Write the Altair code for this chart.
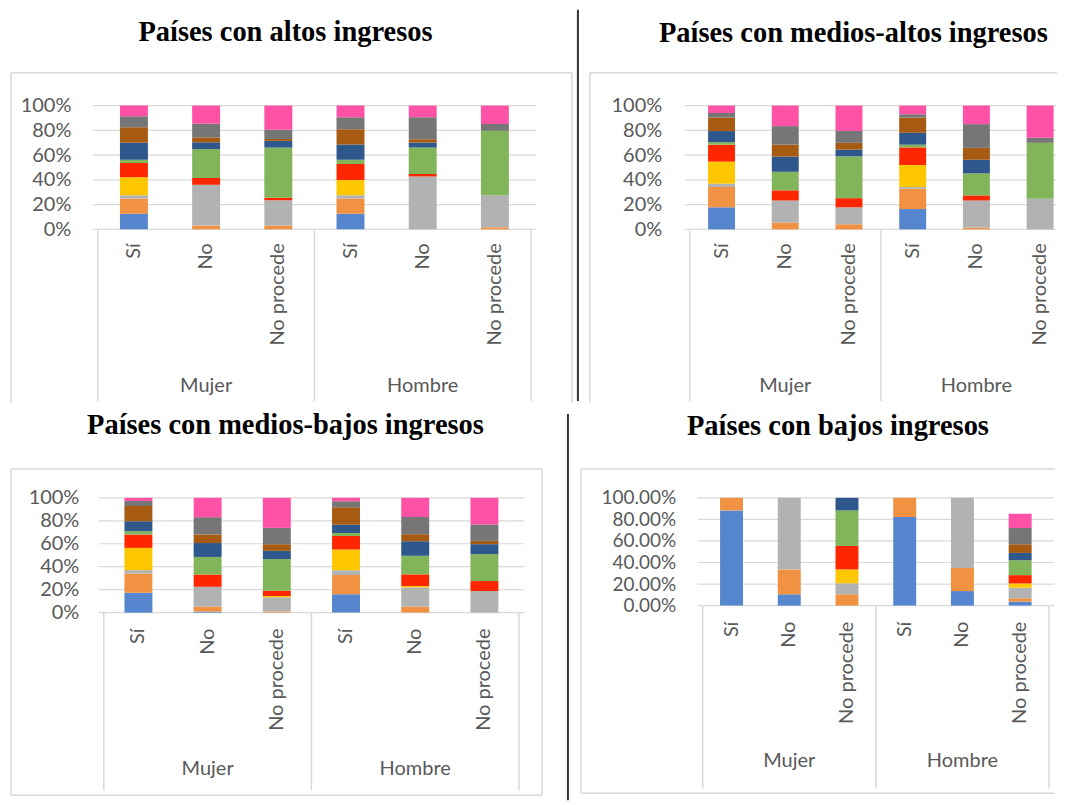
import altair as alt
import pandas as pd

# ---- categories / labels ----
CATS = ["Sí", "No", "No procede"]
GROUPS = ["Mujer", "Hombre"]
SERIES = ["Serie 1", "Serie 2", "Serie 3", "Serie 4", "Serie 5",
          "Serie 6", "Serie 7", "Serie 8", "Serie 9", "Serie 10"]
COLORS = ["#5686CE", "#F19242", "#B2B2B2", "#FFC700", "#FF2600",
          "#82B55A", "#2E578C", "#A65A12", "#767676", "#FF52A6"]
Y_TICKS = [0, 0.2, 0.4, 0.6, 0.8, 1]

TITLE_ALTOS = "Países con altos ingresos"
TITLE_MEDIOS_ALTOS = "Países con medios-altos ingresos"
TITLE_MEDIOS_BAJOS = "Países con medios-bajos ingresos"
TITLE_BAJOS = "Países con bajos ingresos"

# ---- values (%), bottom to top in SERIES order, per bar ----
ALTOS_MUJER_SI = [12.6, 12.3, 2.7, 14.5, 11.5, 2.7, 13.6, 12.5, 9.0, 8.6]
ALTOS_MUJER_NO = [0, 3.0, 33.0, 0, 5.5, 23.3, 5.5, 4.0, 11.0, 14.7]
ALTOS_MUJER_NP = [0, 3.0, 20.5, 0, 2.0, 40.5, 5.5, 1.5, 7.5, 19.5]
ALTOS_HOMBRE_SI = [12.6, 12.3, 2.7, 12.3, 12.9, 3.5, 12.3, 12.3, 9.7, 9.4]
ALTOS_HOMBRE_NO = [0, 0, 42.7, 0, 2.0, 21.4, 4.0, 2.7, 17.8, 9.4]
ALTOS_HOMBRE_NP = [0, 1.6, 26.0, 0, 0, 52.0, 0, 0, 5.5, 14.9]

MALTOS_MUJER_SI = [17.8, 16.4, 2.7, 17.8, 13.7, 2.0, 9.0, 11.0, 3.6, 6.0]
MALTOS_MUJER_NO = [0, 5.5, 17.8, 0, 8.2, 15.0, 12.3, 9.6, 15.0, 16.6]
MALTOS_MUJER_NP = [0, 4.1, 13.7, 0, 7.4, 33.7, 5.5, 5.5, 9.6, 20.5]
MALTOS_HOMBRE_SI = [16.4, 16.4, 1.4, 17.8, 14.2, 2.2, 9.6, 12.3, 2.7, 7.0]
MALTOS_HOMBRE_NO = [0, 1.4, 21.9, 0, 4.1, 17.8, 11.0, 9.6, 19.2, 15.0]
MALTOS_HOMBRE_NP = [0, 0, 24.7, 0, 0, 45.2, 0, 0, 4.1, 26.0]

MBAJOS_MUJER_SI = [17.3, 16.8, 2.9, 19.4, 11.6, 2.9, 8.7, 13.3, 4.3, 2.8]
MBAJOS_MUJER_NO = [0.9, 4.3, 17.3, 0, 10.7, 15.3, 12.1, 7.5, 15.0, 16.9]
MBAJOS_MUJER_NP = [0, 0.9, 12.4, 1.2, 4.6, 27.5, 7.2, 5.8, 14.2, 26.2]
MBAJOS_HOMBRE_SI = [15.9, 16.8, 4.3, 17.9, 11.8, 2.6, 7.2, 15.3, 5.2, 3.0]
MBAJOS_HOMBRE_NO = [0, 5.2, 16.8, 1.2, 10.1, 16.2, 12.7, 6.1, 15.0, 16.7]
MBAJOS_HOMBRE_NP = [0, 0, 18.8, 0, 8.7, 23.4, 8.7, 2.9, 14.2, 23.3]

BAJOS_MUJER_SI = [88.3, 11.7, 0, 0, 0, 0, 0, 0, 0, 0]
BAJOS_MUJER_NO = [10.5, 23.0, 66.5, 0, 0, 0, 0, 0, 0, 0]
BAJOS_MUJER_NP = [0, 10.5, 10.2, 12.9, 21.8, 32.9, 11.7, 0, 0, 0]
BAJOS_HOMBRE_SI = [82.2, 17.8, 0, 0, 0, 0, 0, 0, 0, 0]
BAJOS_HOMBRE_NO = [13.5, 21.5, 65.0, 0, 0, 0, 0, 0, 0, 0]
BAJOS_HOMBRE_NP = [3.7, 3.1, 9.8, 4.0, 7.7, 13.8, 6.8, 8.0, 15.1, 13.2]

LABEL_FONT = "Lato"
LABEL_COLOR = "#595959"
GRID = "#D9D9D9"
ONE = pd.DataFrame({"a": [0]})


def vrule(x, y1, y2, color=GRID, w=1.5):
    return alt.Chart(ONE).mark_rule(color=color, strokeWidth=w).encode(
        x=alt.value(x), y=alt.value(y1), y2=alt.value(y2))


def hrule(y, x1, x2, color=GRID, w=1.5):
    return alt.Chart(ONE).mark_rule(color=color, strokeWidth=w).encode(
        y=alt.value(y), x=alt.value(x1), x2=alt.value(x2))


def panel(bars, title, pw, ph, x0, xr, bw, fmt, ylab_size, stack, labpad,
          cat_dy, grp_dy, seps, sep_len, dx, offset, extra):
    rows = []
    for b, vals in enumerate(bars):
        for k, v in enumerate(vals):
            rows.append({"pos": b + 0.5, "k": k, "serie": SERIES[k], "v": v / 100})
    df = pd.DataFrame(rows)
    xs = alt.Scale(domain=[0, 6], nice=False, zero=False, range=[x0, xr])
    ys = alt.Scale(domain=[0, 1], nice=False)
    yaxis = alt.Axis(values=Y_TICKS, format=fmt, grid=False,
                     domain=False, ticks=False, title=None,
                     labelFont=LABEL_FONT, labelFontSize=ylab_size,
                     labelColor=LABEL_COLOR, labelPadding=labpad)
    grid = alt.Chart(pd.DataFrame({"g": Y_TICKS})).mark_rule(
        color=GRID, strokeWidth=1.2).encode(
        y=alt.Y("g:Q", scale=ys, axis=yaxis),
        x=alt.value(x0), x2=alt.value(pw))
    bar = alt.Chart(df).mark_bar(size=bw).encode(
        x=alt.X("pos:Q", scale=xs, axis=None),
        y=alt.Y("v:Q", stack=stack, scale=ys, axis=yaxis),
        color=alt.Color("serie:N", scale=alt.Scale(domain=SERIES, range=COLORS),
                        legend=None),
        order=alt.Order("k:Q", sort="ascending"),
    )
    cat_df = pd.DataFrame({"pos": [i + 0.5 for i in range(6)], "lab": CATS * 2})
    cats = alt.Chart(cat_df).mark_text(
        angle=270, align="right", baseline="middle", font=LABEL_FONT,
        fontSize=20, color=LABEL_COLOR).encode(
        x=alt.X("pos:Q", scale=xs, axis=None), y=alt.value(ph + cat_dy),
        text="lab:N")
    grp_df = pd.DataFrame({"pos": [1.5, 4.5], "lab": GROUPS})
    grps = alt.Chart(grp_df).mark_text(
        align="center", baseline="middle", font=LABEL_FONT, fontSize=20,
        color=LABEL_COLOR).encode(
        x=alt.X("pos:Q", scale=xs, axis=None), y=alt.value(ph + grp_dy),
        text="lab:N")
    sep_df = pd.DataFrame({"pos": seps})
    sep = alt.Chart(sep_df).mark_rule(color=GRID, strokeWidth=1.5).encode(
        x=alt.X("pos:Q", scale=xs, axis=None), y=alt.value(ph),
        y2=alt.value(ph + sep_len))
    layers = [grid, bar, cats, grps, sep] + extra
    return alt.layer(*layers).properties(
        width=pw, height=ph,
        title=alt.TitleParams(title, font="Liberation Serif", fontSize=28.5,
                              fontWeight="bold", color="black", anchor="middle",
                              frame="group", dx=dx, offset=offset))


# Panel 1: altos  (plot origin at x=92, y=104)
p1 = panel([ALTOS_MUJER_SI, ALTOS_MUJER_NO, ALTOS_MUJER_NP,
            ALTOS_HOMBRE_SI, ALTOS_HOMBRE_NO, ALTOS_HOMBRE_NP],
           TITLE_ALTOS, 444, 124, 0, 444, 28, ".0%", 20, "normalize", 22, 14, 157,
           [0, 3, 6], 172, -29, -38,
           [vrule(-82, -33, 298), hrule(-33, -82, 480), vrule(480, -33, 298),
            vrule(486, -96, 296, color="#333333", w=2)])

# Panel 2: medios-altos  (plot origin at x=685, y=104; cropped at the right)
p2 = panel([MALTOS_MUJER_SI, MALTOS_MUJER_NO, MALTOS_MUJER_NP,
            MALTOS_HOMBRE_SI, MALTOS_HOMBRE_NO, MALTOS_HOMBRE_NP],
           TITLE_MEDIOS_ALTOS, 372, 124, 0, 393, 27, ".0%", 20, "normalize", 23,
           14, 157, [0, 3], 172, -17, -38,
           [vrule(-95, -33, 298), hrule(-33, -95, 373),
            vrule(0, -96, -95, color="white", w=1)])

# Panel 3: medios-bajos  (origin at x=92, plot from x=98, y=494)
p3 = panel([MBAJOS_MUJER_SI, MBAJOS_MUJER_NO, MBAJOS_MUJER_NP,
            MBAJOS_HOMBRE_SI, MBAJOS_HOMBRE_NO, MBAJOS_HOMBRE_NP],
           TITLE_MEDIOS_BAJOS, 432, 115, 6, 432, 28, ".0%", 20, "normalize", 14,
           16, 157, [0, 3, 6], 178, -23, -27,
           [vrule(-82, -29, 298), hrule(-29, -82, 450), vrule(450, -29, 298),
            hrule(298, -82, 450),
            vrule(476, -84, 303, color="#333333", w=2)])

# Panel 4: bajos  (plot origin at x=697, y=494)
p4 = panel([BAJOS_MUJER_SI, BAJOS_MUJER_NO, BAJOS_MUJER_NP,
            BAJOS_HOMBRE_SI, BAJOS_HOMBRE_NO, BAJOS_HOMBRE_NP],
           TITLE_BAJOS, 357, 108, 0, 357, 23, ".2%", 19, "zero", 22, 16, 156,
           [0, 3, 6], 183, -38, -27,
           [vrule(-117, -29, 296), hrule(-29, -117, 358), hrule(296, -117, 358),
            vrule(0, -84, -83, color="white", w=1)])

row1 = alt.hconcat(p1, p2, spacing=10)
row2 = alt.hconcat(p3, p4, spacing=11)
chart = alt.vconcat(row1, row2, spacing=7).properties(
    padding={"left": 2, "top": 0, "right": 0, "bottom": 0},
    background="white",
).configure_view(stroke=None)

chart.save("out.html", embed_options={"renderer": "svg", "actions": False})
